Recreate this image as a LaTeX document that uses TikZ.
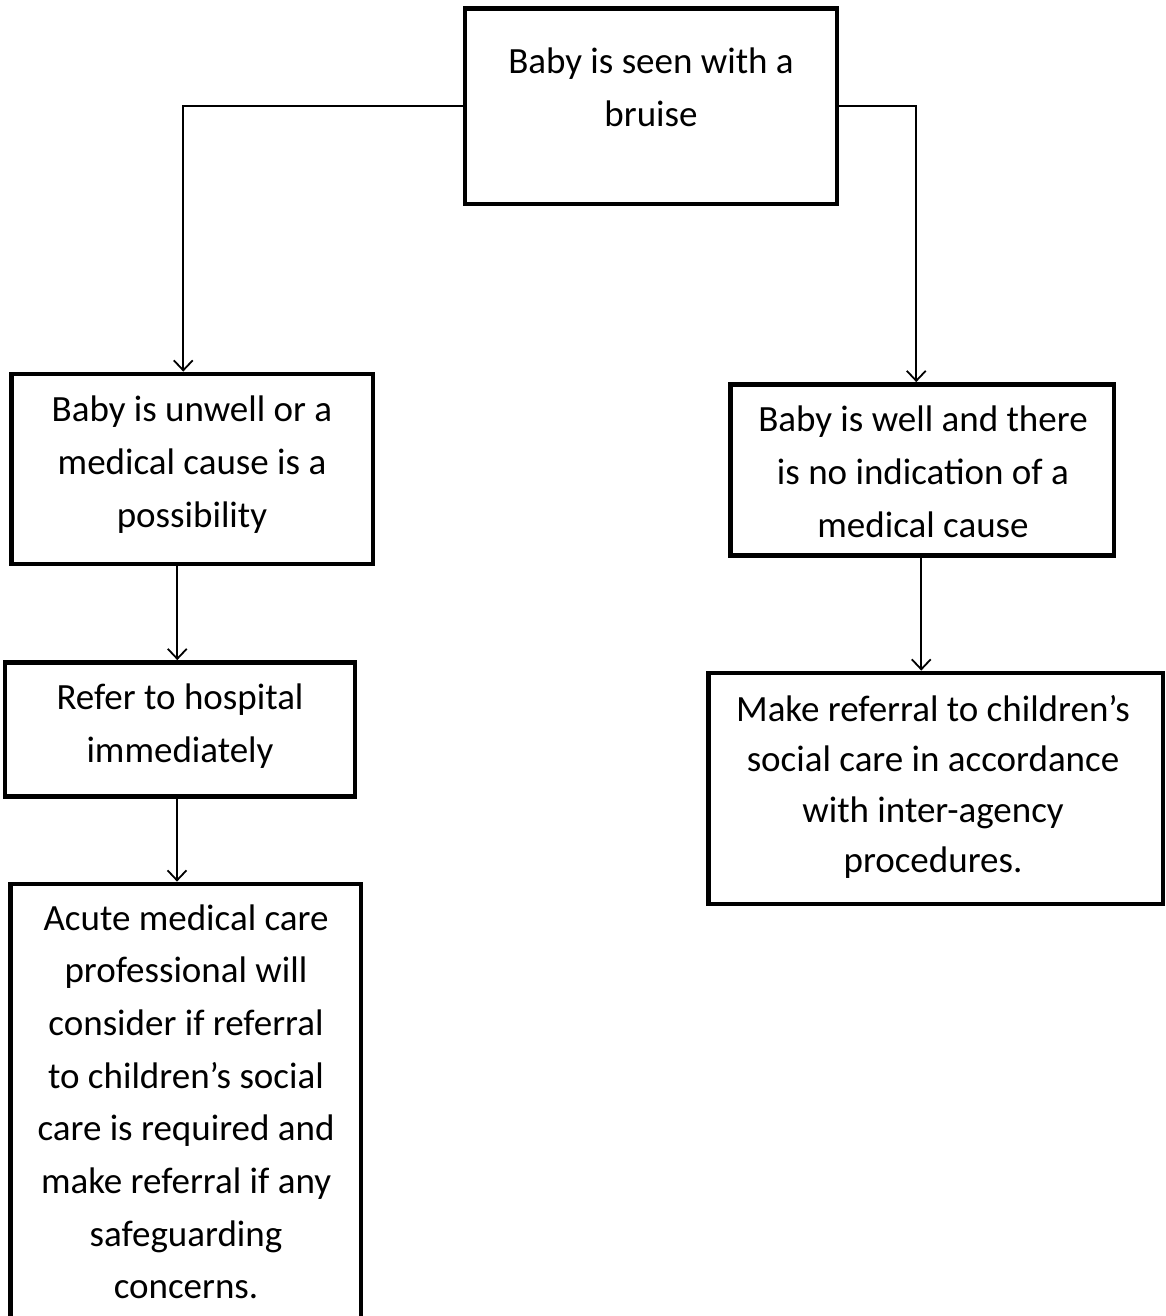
\documentclass[tikz,border=0pt]{standalone}
\usepackage{fontspec}
\setmainfont{Carlito}
\usetikzlibrary{arrows.meta}
\begin{document}
\begin{tikzpicture}[x=1pt,y=-1pt,
  box/.style={draw=black,line width=4.8pt,inner sep=0pt,rectangle},
  txt/.style={anchor=north,inner sep=0pt,outer sep=0pt,align=center,font=\fontsize{37}{52.7}\selectfont},
  conn/.style={line width=1.8pt,-{Straight Barb[length=10pt,width=19pt,line width=1.8pt]}}]
\useasboundingbox (0,0) rectangle (1166,1316);
\clip (0,0) rectangle (1166,1316);
% boxes
\node[box,minimum width=372pt,minimum height=195.5pt] (top) at (651,106.25) {};
\node[box,minimum width=361.5pt,minimum height=190pt] (L1) at (192.25,469) {};
\node[box,minimum width=350pt,minimum height=134pt] (L2) at (180,729.5) {};
\node[box,minimum width=350.5pt,minimum height=456pt] (L3) at (185.75,1112) {};
\node[box,minimum width=383.5pt,minimum height=171pt] (R1) at (922.25,470) {};
\node[box,minimum width=454.5pt,minimum height=231pt] (R2) at (935.75,788.5) {};
% texts
\node[txt] (ttop) at (651,36.6) {\strut Baby is seen with a\\bruise};
\node[txt] (tL1) at (192,385.1) {\strut Baby is unwell or a\\medical cause is a\\possibility};
\node[txt] (tL2) at (180,673.1) {\strut Refer to hospital\\immediately};
\node[txt] (tL3) at (186,893.1) {\strut Acute medical care\\professional will\\consider if referral\\to children’s social\\care is required and\\make referral if any\\safeguarding\\concerns.};
\node[txt] (tR1) at (923,395.1) {\strut Baby is well and there\\is no indication of a\\medical cause};
\node[txt,font=\fontsize{37}{50.5}\selectfont] (tR2) at (933,685.65) {\strut Make referral to children’s\\social care in accordance\\with inter-agency\\procedures.};
% connectors
\draw[conn] (top.west) -| ([xshift=-9pt]L1.north);
\draw[conn] (top.east) -| ([xshift=-6pt]R1.north);
\draw[conn] ([xshift=-15pt]L1.south) -- ([xshift=-15pt]L1.south |- L2.north);
\draw[conn] ([xshift=-3pt]L2.south) -- ([xshift=-3pt]L2.south |- L3.north);
\draw[conn] ([xshift=-1pt]R1.south) -- ([xshift=-1pt]R1.south |- R2.north);
\end{tikzpicture}
\end{document}
